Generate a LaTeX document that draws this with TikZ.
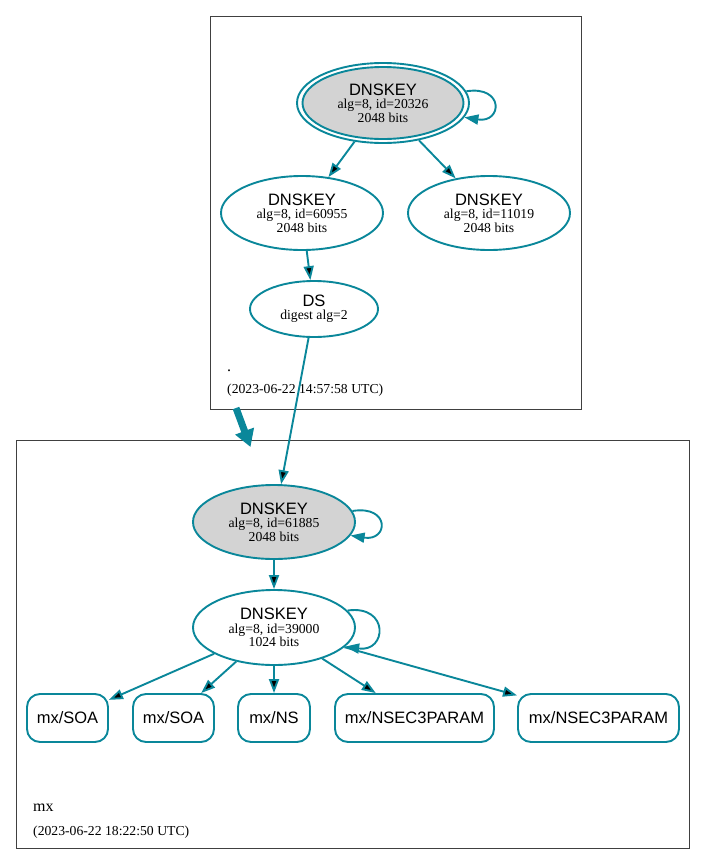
\documentclass[tikz,border=0pt]{standalone}
\usepackage{fontspec}
\setmainfont{Liberation Serif}
\setsansfont{Liberation Sans}
\usetikzlibrary{shapes.geometric,arrows.meta}
\definecolor{dnsteal}{HTML}{0A879A}
\definecolor{keygray}{HTML}{D3D3D3}
\newcommand{\hd}[1]{{\sffamily\fontsize{16.5}{16.5}\selectfont #1}}

\begin{document}
\begin{tikzpicture}[x=1pt,y=-1pt,
	key/.style={ellipse,draw=dnsteal,line width=1.9pt,inner sep=0pt,align=center,font=\fontsize{13.7}{13.4}\selectfont},
	rr/.style={rectangle,rounded corners=13pt,draw=dnsteal,line width=1.9pt,minimum height=48pt,inner sep=0pt,font=\sffamily\fontsize{16.5}{16.5}\selectfont},
	cluster/.style={draw=black!75,line width=0.9pt},
	stamp/.style={anchor=base west,inner sep=0pt},
	arr/.style={draw=dnsteal,line width=1.9pt,-{Triangle[length=14pt,width=10pt]}}]

	\useasboundingbox (0,0) rectangle (705,865);

	\draw[cluster] (210.5,16.5) rectangle (581.5,409);
	\draw[cluster] (16,440.5) rectangle (689,848);

	\node[key,minimum width=172pt,minimum height=80pt] (ksk) at (383,103) {};
	\node[key,fill=keygray,minimum width=161pt,minimum height=72pt] (kskin) at (383,103) {\hd{DNSKEY}\\alg=8, id=20326\\2048 bits};
	\node[key,minimum width=162pt,minimum height=74pt] (zsk1) at (302,213) {\hd{DNSKEY}\\alg=8, id=60955\\2048 bits};
	\node[key,minimum width=162pt,minimum height=74pt] (zsk2) at (489,213) {\hd{DNSKEY}\\alg=8, id=11019\\2048 bits};
	\node[key,minimum width=128pt,minimum height=56pt] (ds) at (314,309) {\hd{DS}\\digest alg=2};

	\node[stamp,font=\fontsize{16}{16}\selectfont] (rootname) at (227,371) {.};
	\node[stamp,font=\fontsize{13.7}{13.7}\selectfont] (roottime) at (227,393.5) {(2023-06-22 14:57:58 UTC)};

	\node[key,fill=keygray,minimum width=162pt,minimum height=74pt] (mxksk) at (274,522) {\hd{DNSKEY}\\alg=8, id=61885\\2048 bits};
	\node[key,minimum width=162pt,minimum height=75pt] (mxzsk) at (274,627.5) {\hd{DNSKEY}\\alg=8, id=39000\\1024 bits};

	\node[rr,minimum width=81pt] (soa1) at (67.5,718) {mx/SOA};
	\node[rr,minimum width=81pt] (soa2) at (173.5,718) {mx/SOA};
	\node[rr,minimum width=72pt] (ns) at (274,718) {mx/NS};
	\node[rr,minimum width=159pt] (nsec1) at (414.5,718) {mx/NSEC3PARAM};
	\node[rr,minimum width=161pt] (nsec2) at (598.5,718) {mx/NSEC3PARAM};

	\node[stamp,font=\fontsize{16}{16}\selectfont] (mxname) at (33,811) {mx};
	\node[stamp,font=\fontsize{13.7}{13.7}\selectfont] (mxtime) at (33,835.5) {(2023-06-22 18:22:50 UTC)};

	\coordinate (rootout) at (236,408);
	\coordinate (mxin) at (250.5,447);

	\draw[arr] (ksk.8) .. controls +(38,-6) and +(38,6) .. (ksk.-10);
	\draw[arr] (ksk) edge (zsk1);
	\draw[arr] (ksk) edge (zsk2);
	\draw[arr] (zsk1) edge (ds);
	\draw[arr] (ds) edge (mxksk);
	\draw[dnsteal,line width=7pt,-{Triangle[length=17pt,width=19pt]}] (rootout) -- (mxin);

	\draw[arr] (mxksk.8) .. controls +(38,-6) and +(38,6) .. (mxksk.-10);
	\draw[arr] (mxksk) edge (mxzsk);
	\draw[arr] (mxzsk.13) .. controls +(42,-6) and +(42,6) .. (mxzsk.-15);
	\draw[arr] (mxzsk) edge (soa1);
	\draw[arr] (mxzsk) edge (soa2);
	\draw[arr] (mxzsk) edge (ns);
	\draw[arr] (mxzsk) edge (nsec1);
	\draw[arr] (mxzsk) edge (nsec2);
\end{tikzpicture}
\end{document}
